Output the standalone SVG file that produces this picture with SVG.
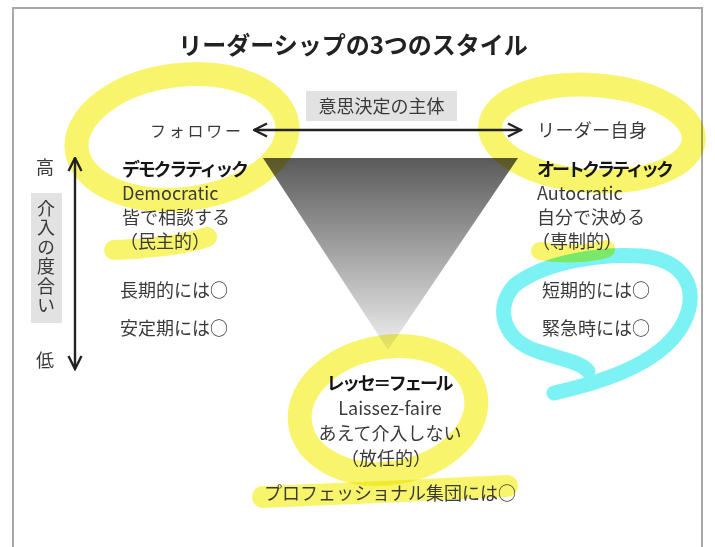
<svg xmlns="http://www.w3.org/2000/svg" width="715" height="547" viewBox="0 0 715 547">
<defs>
<linearGradient id="tri" x1="0" y1="0" x2="0" y2="1">
<stop offset="0" stop-color="#5a5a5a"/>
<stop offset="1" stop-color="#f0f0f0"/>
</linearGradient>
<marker id="chev" viewBox="0 0 16 16" refX="14.5" refY="8" markerWidth="16" markerHeight="16" markerUnits="userSpaceOnUse" orient="auto-start-reverse">
<path d="M1.5,1.5 L14.5,8 L1.5,14.5" fill="none" stroke="#222" stroke-width="2.4" stroke-linejoin="miter"/>
</marker>
<style>
.t{font-family:"Noto Sans CJK JP","Noto Sans",sans-serif;font-size:18px;fill:#3a3a3a}
.b{font-weight:bold;fill:#151515}
.hl{fill:none;stroke:#f8f56c;stroke-linecap:round;stroke-linejoin:round;mix-blend-mode:multiply}
.cy{fill:none;stroke:#7df2f5;stroke-linecap:round;stroke-linejoin:round;mix-blend-mode:multiply}
.ax{fill:none;stroke:#222;stroke-width:2.4}
</style>
</defs>
<rect x="13" y="8" width="689" height="600" fill="#fff" stroke="#a8a8a8" stroke-width="2"/>
<text class="t b" x="353" y="54" text-anchor="middle" style="font-size:24px;fill:#222">リーダーシップの3つのスタイル</text>
<g id="triangle">
<polygon points="263,158 518,158 388,350" fill="url(#tri)"/>
</g>
<g id="highlights">
<ellipse class="hl" cx="182" cy="137" rx="106" ry="62" transform="rotate(-7 182 137)" stroke-width="24"/>
<path class="hl" d="M114,250 C145,249 185,245 207,237" stroke-width="20"/>
<ellipse class="hl" cx="592" cy="133" rx="102" ry="48" transform="rotate(4 592 133)" stroke-width="24"/>
<path class="hl" d="M540,251 C565,255 590,254 606,249" stroke-width="18"/>
<ellipse class="hl" cx="388" cy="410" rx="89" ry="63" transform="rotate(-10 388 410)" stroke-width="24"/>
<path class="hl" d="M263,497 C340,494 430,490 507,486" stroke-width="22"/>
<path class="cy" d="M554,393 C612,380 665,360 684,322 C700,288 684,260 642,256 C600,253 545,262 515,285 C495,305 500,340 540,352 C565,360 580,362 588,371" stroke-width="15"/>
</g>
<g id="connectors">
<line class="ax" x1="254" y1="130" x2="521" y2="130" marker-start="url(#chev)" marker-end="url(#chev)"/>
<line class="ax" x1="75" y1="158" x2="75" y2="369" marker-start="url(#chev)" marker-end="url(#chev)"/>
</g>
<g id="decision-label">
<rect x="306" y="91" width="151" height="30" fill="#e2e2e2"/>
<text class="t" x="381.5" y="113" text-anchor="middle">意思決定の主体</text>
</g>
<g id="follower">
<text class="t" x="150" y="137" style="font-size:16px" textLength="91">フォロワー</text>
</g>
<g id="leader">
<text class="t" x="537" y="137" textLength="110">リーダー自身</text>
</g>
<g id="axis-label">
<text class="t" x="45" y="174" text-anchor="middle">高</text>
<rect x="31" y="193" width="31" height="130" fill="#e2e2e2"/>
<text class="t" x="46" y="199" style="writing-mode:vertical-rl;letter-spacing:1.5px">介入の度合い</text>
<text class="t" x="45" y="367" text-anchor="middle">低</text>
</g>
<g id="democratic">
<text class="t b" x="122" y="176" textLength="127">デモクラティック</text>
<text class="t" x="122" y="200">Democratic</text>
<text class="t" x="122" y="224">皆で相談する</text>
<text class="t" x="120" y="248">（民主的）</text>
<text class="t" x="120" y="297">長期的には○</text>
<text class="t" x="120" y="335">安定期には○</text>
</g>
<g id="autocratic">
<text class="t b" x="537" y="176" textLength="137">オートクラティック</text>
<text class="t" x="537" y="200">Autocratic</text>
<text class="t" x="537" y="224">自分で決める</text>
<text class="t" x="532" y="248">（専制的）</text>
<text class="t" x="542" y="297">短期的には○</text>
<text class="t" x="542" y="335">緊急時には○</text>
</g>
<g id="laissez-faire">
<text class="t b" x="390" y="390" text-anchor="middle" textLength="127">レッセ＝フェール</text>
<text class="t" x="390" y="415" text-anchor="middle">Laissez-faire</text>
<text class="t" x="390" y="440" text-anchor="middle">あえて介入しない</text>
<text class="t" x="386" y="465" text-anchor="middle">（放任的）</text>
<text class="t" x="390" y="500" text-anchor="middle">プロフェッショナル集団には○</text>
</g>
</svg>
